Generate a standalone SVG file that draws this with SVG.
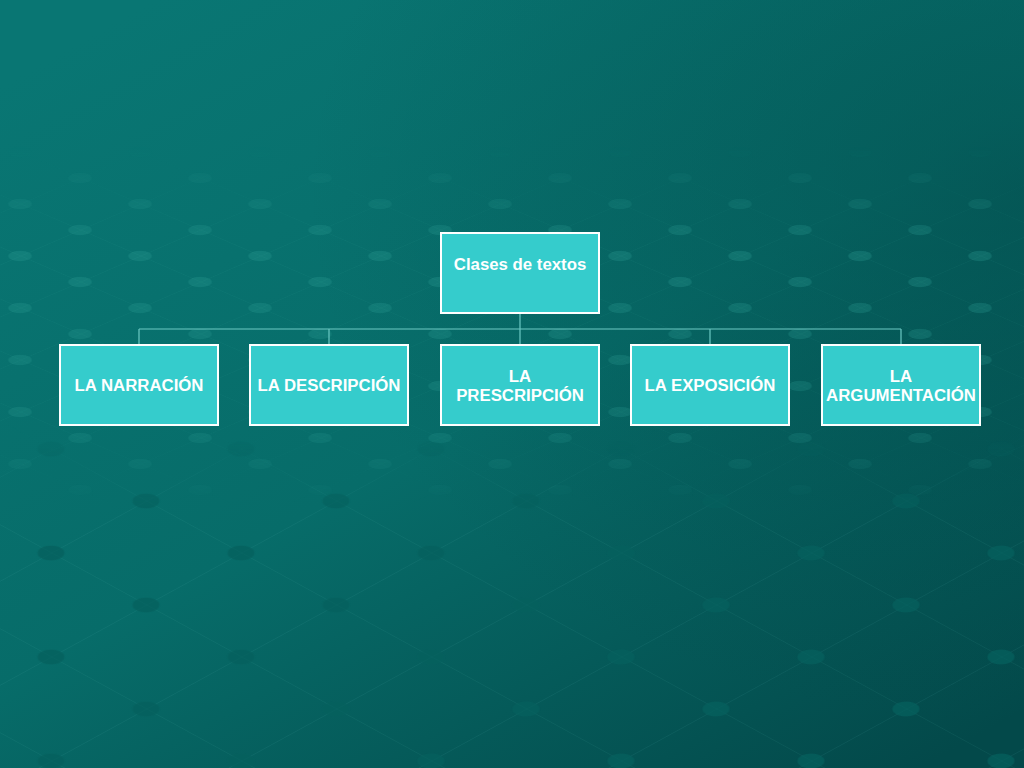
<svg xmlns="http://www.w3.org/2000/svg" width="1024" height="768" viewBox="0 0 1024 768">
  <defs>
    <linearGradient id="bg" x1="0.15" y1="0" x2="0.9" y2="1">
      <stop offset="0" stop-color="#097673"/>
      <stop offset="0.5" stop-color="#076c69"/>
      <stop offset="1" stop-color="#03494a"/>
    </linearGradient>
    <radialGradient id="shade" cx="1" cy="0.25" r="0.7">
      <stop offset="0" stop-color="#024848" stop-opacity="0.5"/>
      <stop offset="1" stop-color="#024848" stop-opacity="0"/>
    </radialGradient>
    <pattern id="gridBig" patternUnits="userSpaceOnUse" width="100" height="100" patternTransform="matrix(0.95 0.52 0.95 -0.52 146 605)">
      <g stroke="#5fc4bb" stroke-opacity="0.16" stroke-width="1" fill="none">
        <line x1="0" y1="0" x2="100" y2="0"/>
        <line x1="0" y1="0" x2="0" y2="100"/>
      </g>
      <g fill="#05605d" fill-opacity="0.75">
        <circle cx="0" cy="0" r="10"/>
        <circle cx="100" cy="0" r="10"/>
        <circle cx="0" cy="100" r="10"/>
        <circle cx="100" cy="100" r="10"/>
      </g>
    </pattern>
    <pattern id="gridSmall" patternUnits="userSpaceOnUse" width="100" height="100" patternTransform="matrix(0.6 0.26 0.6 -0.26 500 360)">
      <g stroke="#6fd0c6" stroke-opacity="0.12" stroke-width="1.4" fill="none">
        <line x1="0" y1="0" x2="100" y2="0"/>
        <line x1="0" y1="0" x2="0" y2="100"/>
      </g>
      <g fill="#2a9a92" fill-opacity="0.35">
        <circle cx="0" cy="0" r="14"/>
        <circle cx="100" cy="0" r="14"/>
        <circle cx="0" cy="100" r="14"/>
        <circle cx="100" cy="100" r="14"/>
      </g>
    </pattern>
    <linearGradient id="fadeBig" x1="0" y1="0" x2="0" y2="1">
      <stop offset="0" stop-color="#fff" stop-opacity="0"/>
      <stop offset="0.55" stop-color="#fff" stop-opacity="0"/>
      <stop offset="0.68" stop-color="#fff" stop-opacity="1"/>
      <stop offset="1" stop-color="#fff" stop-opacity="1"/>
    </linearGradient>
    <linearGradient id="fadeSmall" x1="0" y1="0" x2="0" y2="1">
      <stop offset="0" stop-color="#fff" stop-opacity="0"/>
      <stop offset="0.19" stop-color="#fff" stop-opacity="0"/>
      <stop offset="0.32" stop-color="#fff" stop-opacity="0.9"/>
      <stop offset="0.55" stop-color="#fff" stop-opacity="0.7"/>
      <stop offset="0.66" stop-color="#fff" stop-opacity="0"/>
      <stop offset="1" stop-color="#fff" stop-opacity="0"/>
    </linearGradient>
    <mask id="mBig"><rect width="1024" height="768" fill="url(#fadeBig)"/></mask>
    <mask id="mSmall"><rect width="1024" height="768" fill="url(#fadeSmall)"/></mask>
    <style>
      .box { fill: #35cccc; stroke: #ffffff; stroke-width: 2; }
      .lbl { font-family: "Liberation Sans", Arial, sans-serif; font-size: 16.8px; font-weight: bold; fill: #ffffff; text-anchor: middle; }
      .conn { stroke: #6cc9c4; stroke-width: 1.2; fill: none; }
    </style>
  </defs>

  <g id="background">
    <rect width="1024" height="768" fill="url(#bg)"/>
    <rect width="1024" height="768" fill="url(#shade)"/>
    <rect width="1024" height="768" fill="url(#gridSmall)" mask="url(#mSmall)"/>
    <rect width="1024" height="768" fill="url(#gridBig)" mask="url(#mBig)"/>
  </g>

  <g id="connectors">
    <path class="conn" d="M520 313 V329 M139 329 H901 M139 329 V345 M329 329 V345 M520 329 V345 M710 329 V345 M901 329 V345"/>
  </g>

  <g id="root">
    <rect class="box" x="441" y="233" width="158" height="80"/>
    <text class="lbl" x="520" y="270">Clases de textos</text>
  </g>
  <g id="narracion">
    <rect class="box" x="60" y="345" width="158" height="80"/>
    <text class="lbl" x="139" y="391">LA NARRACIÓN</text>
  </g>
  <g id="descripcion">
    <rect class="box" x="250" y="345" width="158" height="80"/>
    <text class="lbl" x="329" y="391">LA DESCRIPCIÓN</text>
  </g>
  <g id="prescripcion">
    <rect class="box" x="441" y="345" width="158" height="80"/>
    <text class="lbl" x="520" y="382">LA</text>
    <text class="lbl" x="520" y="401">PRESCRIPCIÓN</text>
  </g>
  <g id="exposicion">
    <rect class="box" x="631" y="345" width="158" height="80"/>
    <text class="lbl" x="710" y="391">LA EXPOSICIÓN</text>
  </g>
  <g id="argumentacion">
    <rect class="box" x="822" y="345" width="158" height="80"/>
    <text class="lbl" x="901" y="382">LA</text>
    <text class="lbl" x="901" y="401">ARGUMENTACIÓN</text>
  </g>
</svg>
